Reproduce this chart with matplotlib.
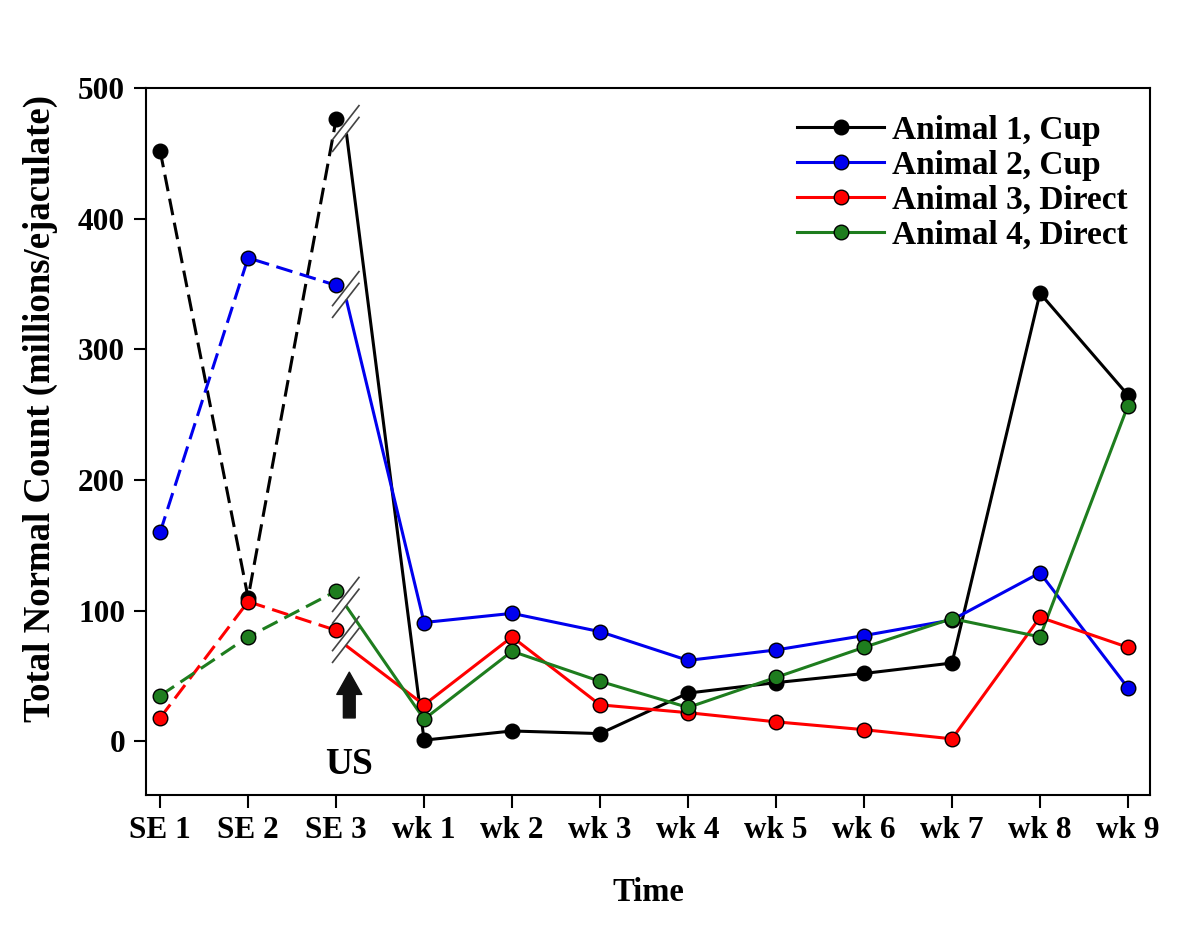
import matplotlib
matplotlib.use("Agg")
import matplotlib.pyplot as plt

categories = ["SE 1", "SE 2", "SE 3", "wk 1", "wk 2", "wk 3", "wk 4", "wk 5",
              "wk 6", "wk 7", "wk 8", "wk 9"]
animal1 = [452, 110, 476, 1, 8, 6, 37, 45, 52, 60, 343, 265]
animal2 = [160, 370, 349, 91, 98, 84, 62, 70, 81, 93, 129, 41]
animal3 = [18, 107, 85, 28, 80, 28, 22, 15, 9, 2, 95, 72]
animal4 = [35, 80, 115, 17, 69, 46, 26, 49, 72, 94, 80, 257]
labels = ["Animal 1, Cup", "Animal 2, Cup", "Animal 3, Direct", "Animal 4, Direct"]
colors = ["#000000", "#0000ee", "#ff0000", "#1e7d1e"]
yticks = [0, 100, 200, 300, 400, 500]

plt.rcParams['font.family'] = ['Liberation Serif', 'DejaVu Serif']
plt.rcParams['font.weight'] = 'bold'

fig = plt.figure(figsize=(12, 9.34), dpi=100)
ax = fig.add_axes([0.1217, 0.1488, 0.8366, 0.757])

x = list(range(len(categories)))
n_se = 3
brk_dx = 0.12
brk_dy = -12
lw = 2.2
ms = 10.5

for vals, lab, col in zip([animal1, animal2, animal3, animal4], labels, colors):
    # pre-surgery (dashed)
    ax.plot(x[:n_se], vals[:n_se], color=col, lw=lw, ls=(0, (5.5, 2.5)), zorder=2)
    # post-break solid segment from break to wk 1
    ax.plot([x[n_se - 1] + brk_dx, x[n_se]], [vals[n_se - 1] + brk_dy, vals[n_se]],
            color=col, lw=lw, zorder=2)
    # post-surgery (solid)
    ax.plot(x[n_se:], vals[n_se:], color=col, lw=lw, zorder=2)
    # markers
    ax.plot(x, vals, ls='none', marker='o', ms=ms, mfc=col, mec='black', mew=1.0, zorder=3)
    # legend proxy
    ax.plot([], [], color=col, lw=lw, marker='o', ms=ms, mfc=col, mec='black', mew=1.0,
            label=lab)
    # break marks
    xc = x[n_se - 1] + 0.11
    yc = vals[n_se - 1] - 7
    for off in (-4.5, 4.5):
        ax.plot([xc - 0.15, xc + 0.15], [yc - 13 + off, yc + 13 + off],
                color='#444444', lw=1.2, zorder=4)

# arrow and US label
ax.annotate('', xy=(2.15, 53), xytext=(2.15, 18),
            arrowprops=dict(facecolor='#111111', edgecolor='#111111', width=8.5,
                            headwidth=18, headlength=16, shrink=0))
ax.text(2.15, -18, "US", ha='center', va='center', fontsize=27, fontweight='bold')

ax.set_xlim(-0.16, 11.25)
ax.set_ylim(-41, 500)
ax.set_xticks(x)
ax.set_xticklabels(categories)
ax.set_yticks(yticks)
ax.tick_params(axis='both', direction='out', length=9, width=1.5, labelsize=22.5, pad=6)
for lbl in ax.get_xticklabels() + ax.get_yticklabels():
    lbl.set_fontweight('bold')
for sp in ax.spines.values():
    sp.set_linewidth(1.5)

ax.set_xlabel("Time", fontsize=23.5, fontweight='bold', labelpad=23)
ax.set_ylabel("Total Normal Count (millions/ejaculate)", fontsize=26.5, fontweight='bold',
              labelpad=8)
ax.yaxis.set_label_coords(-0.088, 0.547)

leg = ax.legend(loc='upper right', bbox_to_anchor=(0.998, 0.99), frameon=False,
                fontsize=24, handlelength=2.6, handletextpad=0.25, labelspacing=0.12,
                borderaxespad=0.2)
for t in leg.get_texts():
    t.set_fontweight('bold')

fig.savefig("out.png", dpi=100, facecolor='white')
